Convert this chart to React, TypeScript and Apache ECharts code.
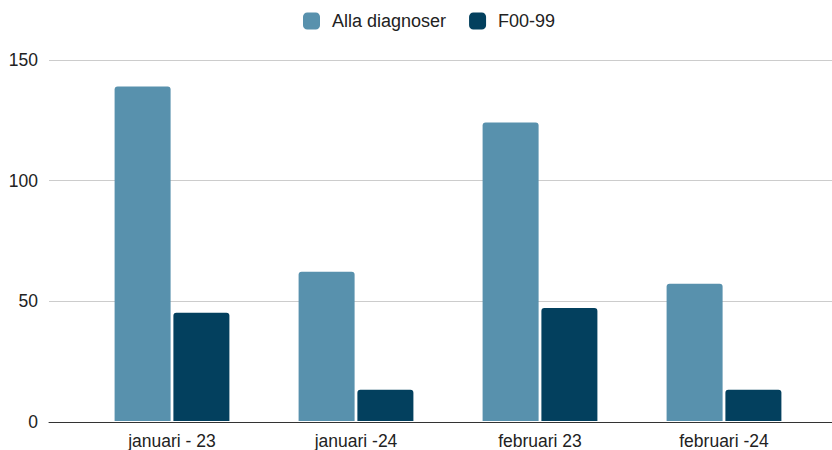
import React, { useEffect, useRef } from "react";
import * as echarts from "echarts";

const categories = ["januari - 23", "januari -24", "februari 23", "februari -24"];
const allaDiagnoser = [139, 62, 124, 57];
const f0099 = [45, 13, 47, 13];
const seriesNames = ["Alla diagnoser", "F00-99"];
const yTicks = { min: 0, max: 150, interval: 50 };

const FONT = "'Liberation Sans', Arial, sans-serif";

export default function App() {
  const ref = useRef<HTMLDivElement>(null);
  useEffect(() => {
    if (!ref.current) return;
    const chart = echarts.init(ref.current, null, { renderer: "svg" });
    chart.setOption({
      animation: false,
      backgroundColor: "#ffffff",
      textStyle: { fontFamily: FONT },
      legend: {
        left: 303,
        top: 12,
        padding: 0,
        itemWidth: 17,
        itemHeight: 17,
        itemGap: 23,
        icon: "roundRect",
        textStyle: { fontSize: 18, color: "#222", fontFamily: FONT, padding: [0, 0, 0, 7] },
        data: seriesNames,
      },
      grid: [
        { left: 49, right: 0, top: 60, bottom: 28 },
        { left: 80, right: 16, top: 60, bottom: 28 },
      ],
      xAxis: [
        {
          type: "value",
          gridIndex: 0,
          min: 0,
          max: 1,
          z: 5,
          axisLine: { show: true, onZero: false, lineStyle: { color: "#333", width: 1 } },
          axisTick: { show: false },
          axisLabel: { show: false },
          splitLine: { show: false },
        },
        {
          type: "category",
          gridIndex: 1,
          data: categories,
          axisLine: { show: false },
          axisTick: { show: false },
          axisLabel: { fontSize: 17.5, color: "#222", margin: 11, fontFamily: FONT },
          splitLine: { show: false },
        },
      ],
      yAxis: [
        {
          type: "value",
          gridIndex: 0,
          min: yTicks.min,
          max: yTicks.max,
          interval: yTicks.interval,
          axisLine: { show: false },
          axisTick: { show: false },
          axisLabel: { fontSize: 17.5, color: "#222", margin: 11, fontFamily: FONT },
          splitLine: { lineStyle: { color: "#cccccc", width: 1 } },
        },
        {
          type: "value",
          gridIndex: 1,
          min: yTicks.min,
          max: yTicks.max,
          interval: yTicks.interval,
          show: false,
          splitLine: { show: false },
        },
      ],
      series: [
        {
          name: seriesNames[0],
          type: "bar",
          xAxisIndex: 1,
          yAxisIndex: 1,
          data: allaDiagnoser,
          barWidth: 56,
          barGap: "5%",
          itemStyle: { color: "#5891ad", borderRadius: [3, 3, 0, 0] },
        },
        {
          name: seriesNames[1],
          type: "bar",
          xAxisIndex: 1,
          yAxisIndex: 1,
          data: f0099,
          barWidth: 56,
          barGap: "5%",
          itemStyle: { color: "#03405e", borderRadius: [3, 3, 0, 0] },
        },
      ],
    });
    return () => chart.dispose();
  }, []);
  return (
    <div
      ref={ref}
      style={{ position: "absolute", left: 0, top: 0, width: 832, height: 450 }}
    />
  );
}
